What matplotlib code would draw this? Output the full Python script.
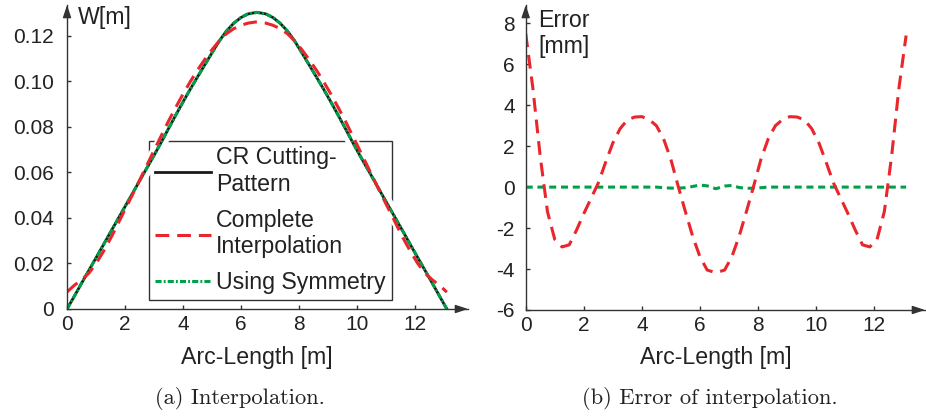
import numpy as np
import matplotlib
matplotlib.use("Agg")
import matplotlib.pyplot as plt

plt.rcParams["font.family"] = ["Liberation Sans", "DejaVu Sans"]
plt.rcParams["axes.unicode_minus"] = False

# Arc-length stations along the cutting pattern [m]
arc_length = [0.0, 0.25, 0.5, 0.75, 1.0, 1.25, 1.5, 1.75, 2.0, 2.25, 2.5, 2.75,
              3.0, 3.25, 3.5, 3.75, 4.0, 4.25, 4.5, 4.75, 5.0, 5.25, 5.5, 5.75,
              6.0, 6.25, 6.55,
              6.85, 7.1, 7.35, 7.6, 7.85, 8.1, 8.35, 8.6, 8.85, 9.1, 9.35, 9.6,
              9.85, 10.1, 10.35, 10.6, 10.85, 11.1, 11.35, 11.6, 11.85, 12.1,
              12.35, 12.6, 12.85, 13.1]

# CR cutting pattern W [m]
w_cutting = [0.0, 0.0056, 0.0113, 0.0169, 0.0225, 0.0281, 0.0338, 0.0394,
             0.0450, 0.0506, 0.0563, 0.0619, 0.0675, 0.0733, 0.0793, 0.0852,
             0.0910, 0.0966, 0.1020, 0.1073, 0.1126, 0.1178, 0.1222, 0.1256,
             0.1281, 0.1297, 0.1304,
             0.1297, 0.1281, 0.1256, 0.1222, 0.1178, 0.1126, 0.1073, 0.1020,
             0.0966, 0.0910, 0.0852, 0.0793, 0.0733, 0.0675, 0.0619, 0.0563,
             0.0506, 0.0450, 0.0394, 0.0338, 0.0281, 0.0225, 0.0169, 0.0113,
             0.0056, 0.0]

# Interpolation error [mm]
err_complete = [7.5, 4.8, 1.5, -1.2, -2.55, -2.92, -2.82, -2.1, -1.3, -0.55,
                0.2, 1.2, 2.15, 2.85, 3.28, 3.42, 3.44, 3.3, 3.0, 2.35, 1.35,
                0.05, -1.2, -2.4, -3.4, -4.05, -4.18,
                -4.05, -3.4, -2.4, -1.2, 0.05, 1.35, 2.35, 3.0, 3.3, 3.44, 3.42,
                3.28, 2.85, 2.15, 1.2, 0.2, -0.55, -1.3, -2.1, -2.82, -2.92,
                -2.55, -1.2, 1.5, 4.8, 7.4]

err_symmetry = [0.0, 0.0, 0.0, 0.0, 0.0, 0.0, 0.0, 0.0, 0.0, 0.0, 0.0, 0.0,
                0.0, 0.0, 0.0, 0.0, 0.0, 0.0, 0.0, -0.03, -0.05, -0.05, -0.03,
                0.03, 0.1, 0.06, -0.08,
                0.05, 0.08, -0.02, -0.06, -0.05, -0.03, 0.0, 0.0, 0.0, 0.0,
                0.0, 0.0, 0.0, 0.0, 0.0, 0.0, 0.0, 0.0, 0.0, 0.0, 0.0, 0.0,
                0.0, 0.0, 0.0, 0.0]

x_ticks = [0, 2, 4, 6, 8, 10, 12]
w_ticks = [0, 0.02, 0.04, 0.06, 0.08, 0.10, 0.12]
w_tick_labels = ["0", "0.02", "0.04", "0.06", "0.08", "0.10", "0.12"]
err_ticks = [-6, -4, -2, 0, 2, 4, 6, 8]

s = np.array(arc_length)
w = np.array(w_cutting)
e_full = np.array(err_complete)
e_sym = np.array(err_symmetry)
w_full = w + e_full / 1000.0
w_sym = w + e_sym / 1000.0

BLACK = "#1a1a1a"
RED = "#e8262c"
GREEN = "#00a04b"
AX = "#333333"
TXT = "#222222"
FS_TICK = 15
FS = 16.7
FS_CAP = 16.2

fig = plt.figure(figsize=(9.26, 4.17), dpi=100)
ax1 = fig.add_axes([0.0724, 0.259, 0.433, 0.729])
ax2 = fig.add_axes([0.5677, 0.2566, 0.4312, 0.7314])


def style_axes(ax, ypad):
    for side in ("top", "right"):
        ax.spines[side].set_visible(False)
    for side in ("left", "bottom"):
        ax.spines[side].set_color(AX)
        ax.spines[side].set_linewidth(1.0)
    ax.tick_params(direction="in", length=3, width=1, color=AX,
                   labelsize=FS_TICK, labelcolor=TXT)
    ax.tick_params(axis="y", pad=ypad)
    ax.tick_params(axis="x", pad=4)
    head = "-|>,head_length=0.75,head_width=0.25"
    ax.annotate("", xy=(1, 0), xycoords="axes fraction", xytext=(0.97, 0),
                arrowprops=dict(arrowstyle=head, color=AX, lw=1,
                                shrinkA=0, shrinkB=0), annotation_clip=False)
    ax.annotate("", xy=(0, 1), xycoords="axes fraction", xytext=(0, 0.96),
                arrowprops=dict(arrowstyle=head, color=AX, lw=1,
                                shrinkA=0, shrinkB=0), annotation_clip=False)


# (a) Interpolation
ax1.plot(s, w, color="white", lw=9, zorder=1.8, solid_capstyle="butt")
l_cr, = ax1.plot(s, w, color=BLACK, lw=2.0, zorder=2.0,
                 label="CR Cutting-\nPattern")
l_sym, = ax1.plot(s, w_sym, color=GREEN, lw=2.2, zorder=2.1,
                  linestyle=(0, (2.0, 0.7, 0.6, 0.7)), label="Using Symmetry")
l_full, = ax1.plot(s, w_full, color=RED, lw=2.2, zorder=2.2,
                   linestyle=(0, (4.5, 2.6)), label="Complete\nInterpolation")
ax1.set_xlim(0, 13.83)
ax1.set_ylim(0, 0.1336)
ax1.set_xticks(x_ticks)
ax1.set_yticks(w_ticks, w_tick_labels)
style_axes(ax1, 9.6)
ax1.text(0.027, 0.9375, "W[m]", transform=ax1.transAxes, fontsize=FS,
         color=TXT, va="baseline", ha="left")
ax1.text(6.55, -0.16, "Arc-Length [m]", transform=ax1.get_xaxis_transform(),
         fontsize=FS, color=TXT, ha="center", va="center")
leg = ax1.legend(handles=[l_cr, l_full, l_sym], loc="lower left",
                 bbox_to_anchor=(0.2045, 0.0296), borderaxespad=0,
                 fontsize=FS, frameon=True, fancybox=False, framealpha=1,
                 handlelength=2.4, handletextpad=0.25, labelspacing=0.55,
                 borderpad=0.25)
leg.get_frame().set_edgecolor(AX)
leg.get_frame().set_linewidth(1.0)
leg.set_zorder(1.5)
for t in leg.get_texts():
    t.set_color(TXT)

# (b) Error of interpolation
ax2.plot(s, e_full, color=RED, lw=2.2, linestyle=(0, (4.5, 2.6)), zorder=2.2)
ax2.plot(s, e_sym, color=GREEN, lw=2.2, linestyle=(0, (2.3, 1.55)), zorder=2.1)
ax2.set_xlim(0, 13.75)
ax2.set_ylim(-6, 8.89)
ax2.set_xticks(x_ticks)
ax2.set_yticks(err_ticks)
style_axes(ax2, 7.7)
ax2.text(0.0316, 0.929, "Error", transform=ax2.transAxes, fontsize=FS,
         color=TXT, va="baseline", ha="left")
ax2.text(0.0316, 0.842, "[mm]", transform=ax2.transAxes, fontsize=FS,
         color=TXT, va="baseline", ha="left")
ax2.text(6.55, -0.156, "Arc-Length [m]", transform=ax2.get_xaxis_transform(),
         fontsize=FS, color=TXT, ha="center", va="center")

# Sub-figure captions
fig.text(240 / 926, 1 - 398 / 417, "(a) Interpolation.", family="cmr10",
         fontsize=FS_CAP, color=TXT, ha="center", va="center")
fig.text(710 / 926, 1 - 398 / 417, "(b) Error of interpolation.",
         family="cmr10", fontsize=FS_CAP, color=TXT, ha="center", va="center")

fig.savefig("out.png", dpi=100)
